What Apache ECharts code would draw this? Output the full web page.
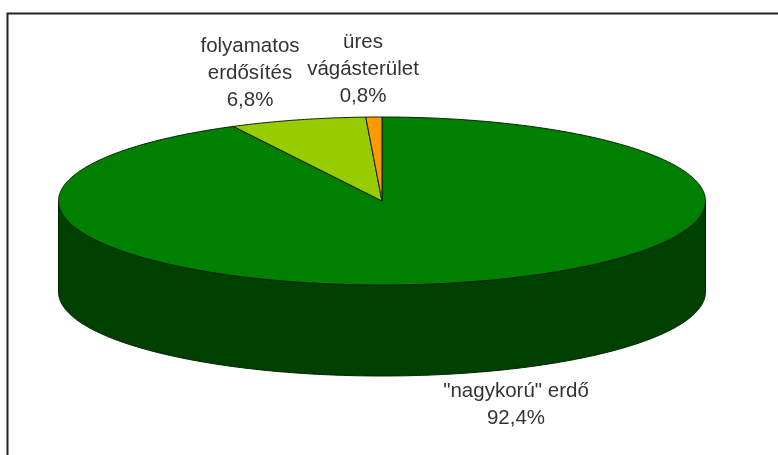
<!DOCTYPE html>
<html>
<head>
<meta charset="utf-8">
<style>html,body{margin:0;padding:0;background:#fff}#c{width:778px;height:455px}</style>
<script src="https://cdn.jsdelivr.net/npm/echarts@6/dist/echarts.min.js"></script>
</head>
<body>
<div id="c"></div>
<script>
const sliceNames = ['"nagykorú" erdő', 'folyamatos\nerdősítés', 'üres\nvágásterület'];
const sliceValues = [92.4, 6.8, 0.8];
const sliceLabels = ['92,4%', '6,8%', '0,8%'];
const topColors = ['#008000', '#99cc00', '#ff9900'];
const wallColor = '#004000';

const pie = { cx: 382, cy: 201, rx: 323.5, ry: 84, depth: 91 };
const labelAnchors = [[516, 405], [250, 73], [363, 69]];
const total = sliceValues.reduce((a, b) => a + b, 0);

function pointAt(turn, dy) {
  const a = turn * 2 * Math.PI;
  return [pie.cx + pie.rx * Math.sin(a), pie.cy - pie.ry * Math.cos(a) + (dy || 0)];
}
function arcPoints(from, to, dy) {
  const n = Math.max(2, Math.ceil(Math.abs(to - from) * 720));
  const pts = [];
  for (let i = 0; i <= n; i++) pts.push(pointAt(from + (to - from) * i / n, dy));
  return pts;
}
function renderSlice(params, api) {
  const i = api.value(0);
  let before = 0;
  for (let k = 0; k < i; k++) before += sliceValues[k];
  const from = before / total;
  const to = (before + api.value(1)) / total;
  const children = [];
  // side wall: only the part of the slice on the front half of the ellipse
  const wFrom = Math.max(from, 0.25), wTo = Math.min(to, 0.75);
  if (wTo > wFrom) {
    children.push({
      type: 'polygon',
      shape: { points: arcPoints(wFrom, wTo, 0).concat(arcPoints(wTo, wFrom, pie.depth)) },
      style: { fill: wallColor, stroke: '#002400', lineWidth: 1 }
    });
  }
  children.push({
    type: 'polygon',
    shape: { points: [[pie.cx, pie.cy]].concat(arcPoints(from, to, 0)) },
    style: { fill: topColors[i], stroke: '#0a200a', lineWidth: 1, lineJoin: 'round' }
  });
  const anchor = labelAnchors[i];
  children.push({
    type: 'text',
    x: anchor[0], y: anchor[1],
    style: {
      text: sliceNames[i] + '\n' + sliceLabels[i],
      fill: '#333333',
      font: '20.5px "Liberation Sans", Arial, sans-serif',
      lineHeight: 27,
      align: 'center',
      verticalAlign: 'middle'
    }
  });
  return { type: 'group', children };
}

const chart = echarts.init(document.getElementById('c'), null, { renderer: 'canvas' });
chart.setOption({
  animation: false,
  backgroundColor: '#ffffff',
  graphic: [
    { type: 'polyline', shape: { points: [[7.5, 455], [7.5, 13.5], [778, 13.5]] },
      style: { stroke: '#222222', fill: null, lineWidth: 2 }, silent: true }
  ],
  series: [{
    type: 'custom',
    coordinateSystem: 'none',
    renderItem: renderSlice,
    data: sliceValues.map((v, i) => [i, v]),
    silent: true
  }]
});
</script>
</body>
</html>
